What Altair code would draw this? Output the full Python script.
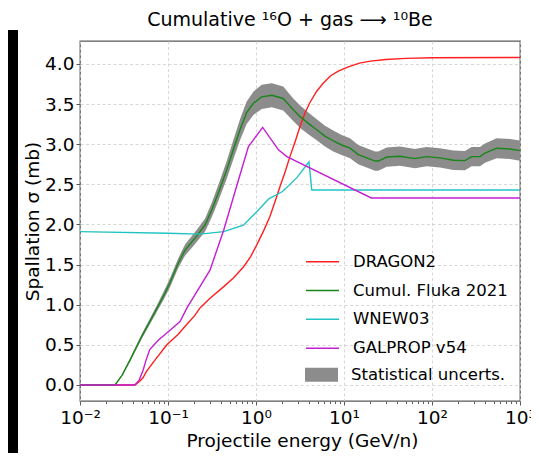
import altair as alt
import pandas as pd

# ---------------- data ----------------
dragon_E = [0.01, 0.042, 0.047, 0.052, 0.057, 0.07, 0.097, 0.13, 0.162, 0.2, 0.231, 0.3, 0.43, 0.55,
            0.72, 0.87, 1.02, 1.22, 1.44, 1.65, 1.87, 2.15, 2.43, 2.8, 3.16, 3.6, 4.1, 4.9, 5.8,
            7.0, 8.6, 11, 15, 20, 30, 50, 100, 1000]
dragon_s = [0, 0, 0.04, 0.09, 0.17, 0.3, 0.5, 0.63, 0.75, 0.86, 0.96, 1.08, 1.225, 1.33,
            1.47, 1.6, 1.745, 1.92, 2.10, 2.29, 2.47, 2.66, 2.845, 3.04, 3.22, 3.39, 3.52, 3.66, 3.76,
            3.85, 3.91, 3.96, 4.01, 4.035, 4.055, 4.07, 4.078, 4.08]

fluka_E = [0.01, 0.025, 0.030, 0.037, 0.050, 0.0745, 0.09, 0.105, 0.131, 0.156, 0.203, 0.263, 0.314,
           0.372, 0.465, 0.552, 0.658, 0.78, 0.933, 1.16, 1.51, 2.04, 2.65, 3.2, 3.93, 4.9, 6.08,
           7.56, 9.4, 11.7, 14.5, 18.1, 22.5, 24.5, 30.6, 43.3, 64, 87, 123, 175, 237, 282, 351,
           400, 543, 770, 1000]
fluka_s = [0, 0, 0.12, 0.31, 0.60, 0.95, 1.12, 1.27, 1.52, 1.68, 1.83, 1.99, 2.18,
           2.39, 2.68, 2.93, 3.18, 3.39, 3.51, 3.59, 3.61, 3.57, 3.43, 3.34, 3.26, 3.18, 3.10,
           3.04, 2.99, 2.95, 2.87, 2.83, 2.79, 2.79, 2.84, 2.85, 2.82, 2.845, 2.83, 2.80, 2.795, 2.845, 2.845,
           2.89, 2.95, 2.94, 2.92]
fluka_err = [0, 0, 0.01, 0.02, 0.03, 0.04, 0.05, 0.055, 0.06, 0.07, 0.075, 0.08, 0.09,
             0.10, 0.11, 0.12, 0.13, 0.14, 0.145, 0.15, 0.15, 0.15, 0.14, 0.14, 0.135, 0.13, 0.13,
             0.13, 0.125, 0.125, 0.12, 0.12, 0.12, 0.12, 0.12, 0.12, 0.12, 0.12, 0.12, 0.12, 0.12, 0.12, 0.12,
             0.12, 0.125, 0.125, 0.125]

wnew_E = [0.01, 0.1, 0.23, 0.43, 0.72, 1.0, 1.4, 2.0, 2.9, 4.0, 4.3, 1000]
wnew_s = [1.91, 1.89, 1.88, 1.91, 1.99, 2.15, 2.32, 2.41, 2.58, 2.78, 2.43, 2.43]

galprop_E = [0.01, 0.042, 0.047, 0.052, 0.056, 0.062, 0.078, 0.1, 0.137, 0.163, 0.30, 0.43, 0.60,
             0.82, 1.19, 1.80, 2.24, 20.4, 1000]
galprop_s = [0, 0, 0.06, 0.18, 0.3, 0.44, 0.56, 0.66, 0.79, 0.955, 1.43, 1.93, 2.47,
             2.97, 3.21, 2.93, 2.845, 2.33, 2.33]

series_names = ["DRAGON2", "Cumul. Fluka 2021", "WNEW03", "GALPROP v54"]
series_colors = ["#ff1f1f", "#1a861a", "#22c3c3", "#c41ed2"]
band_name = "Statistical uncerts."
band_color = "#8c8c8c"

x_major = [0.01, 0.1, 1, 10, 100, 1000]
x_major_labels = ["10⁻²", "10⁻¹", "10⁰", "10¹", "10²", "10³"]
x_minor = [m * d for d in [0.01, 0.1, 1, 10, 100] for m in range(2, 10)]
y_ticks = [0, 0.5, 1.0, 1.5, 2.0, 2.5, 3.0, 3.5, 4.0]

title_text = "Cumulative ¹⁶O + gas ⟶ ¹⁰Be"
x_title = "Projectile energy (GeV/n)"
y_title = "Spallation σ (mb)"

# ---------------- frames ----------------
def series_df(E, s, name):
    return pd.DataFrame({"E": E, "sigma": s, "series": name})

line_dfs = [
    series_df(dragon_E, dragon_s, series_names[0]),
    series_df(fluka_E, fluka_s, series_names[1]),
    series_df(wnew_E, wnew_s, series_names[2]),
    series_df(galprop_E, galprop_s, series_names[3]),
]
band_df = pd.DataFrame({
    "E": fluka_E,
    "lo": [s - e for s, e in zip(fluka_s, fluka_err)],
    "hi": [s + e for s, e in zip(fluka_s, fluka_err)],
    "label": band_name,
})

W, H = 440, 360
PAD_TOP = 33
FS = 18.5
TFS = 19
LFS = 16.5

xscale = alt.Scale(type="log", domain=[0.01, 1000], nice=False)
yscale = alt.Scale(domain=[-0.2, 4.286], nice=False, zero=False)

label_expr = " : ".join(
    f"datum.value < {v * 3:g} ? '{lab}'" for v, lab in zip(x_major[:-1], x_major_labels[:-1])
) + f" : '{x_major_labels[-1]}'"

x_axis_major = alt.Axis(values=x_major, labelExpr=label_expr, grid=True, tickSize=4,
                        labelPadding=3.4, title=x_title, titleY=45.5, titleX=222,
                        titleBaseline="alphabetic", orient="bottom")
x_axis_minor = alt.Axis(values=x_minor, labels=False, grid=False, tickSize=2.5, domain=False,
                        title=None, orient="bottom")
y_axis = alt.Axis(values=y_ticks, format=".1f", grid=True, tickSize=4, labelPadding=2,
                  title=y_title, titleX=-42, titleY=180, titleBaseline="alphabetic",
                  titleAngle=270, titleAlign="center")

stroke_legend = alt.Legend(orient="none", legendX=225, legendY=212.5, title=None,
                           symbolType="stroke", symbolSize=1089, symbolStrokeWidth=1.5,
                           clipHeight=LFS, labelFontSize=LFS, labelOffset=13, rowPadding=11.8,
                           padding=0, labelColor="black")
fill_legend = alt.Legend(orient="none", legendX=225, legendY=325.5, title=None,
                         symbolType="M-1,-0.42H1V0.42H-1Z", symbolSize=1089,
                         symbolStrokeWidth=0, symbolOpacity=1, clipHeight=LFS,
                         labelFontSize=LFS, labelOffset=13, padding=0, labelColor="black")

stroke_enc = alt.Stroke("series:N", scale=alt.Scale(domain=series_names, range=series_colors),
                        legend=stroke_legend)

# decorative dark strip at the left edge (as in the reference image); its top also sets
# where the chart title sits (the title is placed just above the top of the view bounds)
STRIP_TOP = -11
strip = alt.Chart(pd.DataFrame({"a": [0]})).mark_rect(color="black").encode(
    x=alt.value(-72), x2=alt.value(-62), y=alt.value(STRIP_TOP), y2=alt.value(H + 60)
)

band = alt.Chart(band_df).mark_area(opacity=1).encode(
    x=alt.X("E:Q", scale=xscale, axis=x_axis_major),
    y=alt.Y("lo:Q", scale=yscale, axis=y_axis),
    y2="hi:Q",
    fill=alt.Fill("label:N", scale=alt.Scale(domain=[band_name], range=[band_color]),
                  legend=fill_legend),
)

layers = [strip, band]
for i, df in enumerate(line_dfs):
    layers.append(
        alt.Chart(df).mark_line(strokeWidth=1.4).encode(
            x=alt.X("E:Q", scale=xscale, axis=x_axis_minor if i == 0 else None),
            y=alt.Y("sigma:Q", scale=yscale, axis=y_axis),
            stroke=stroke_enc,
        )
    )

chart = alt.layer(*layers).resolve_axis(x="independent").properties(
    width=W, height=H,
    title=alt.TitleParams(title_text, fontSize=TFS, fontWeight="normal", color="black",
                          offset=0, dx=-10, anchor="middle", frame="group"),
    autosize=alt.AutoSizeParams(type="none"),
    padding={"left": 72, "top": PAD_TOP, "right": 11, "bottom": 52},
).configure(
    font="DejaVu Sans",
    background="white",
).configure_view(
    stroke="#5a5a5a", strokeWidth=1.3,
).configure_axis(
    labelFontSize=FS, titleFontSize=FS, labelColor="black", titleColor="black",
    titleFontWeight="normal", tickColor="#5a5a5a", domain=False,
    gridColor="#cdcdcd", gridDash=[3, 2.5], gridWidth=0.8, labelFlush=False,
).configure_legend(
    labelFont="DejaVu Sans",
)

chart.save("out.html", embed_options={"renderer": "svg", "actions": False})
